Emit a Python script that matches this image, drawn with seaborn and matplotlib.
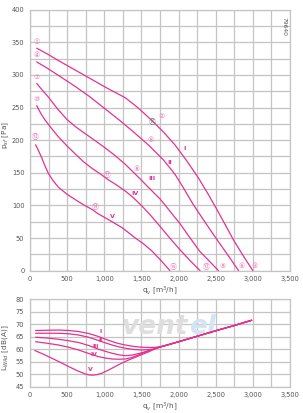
import matplotlib.pyplot as plt
import numpy as np
import pandas as pd
import seaborn as sns
from matplotlib.ticker import FuncFormatter, MultipleLocator

PINK = "#e5318f"
LABEL_PINK = "#ee78b4"
GRID = "#c4c4c4"
TEXT = "#555555"

# pressure curves (q_v [m3/h], p_sf [Pa])
P_CURVES = {
    "I": ([90, 250, 383, 600, 833, 1050, 1283, 1450, 1643, 1800, 1950, 2100, 2268, 2400, 2515, 2640, 2740, 2870, 3000],
          [341, 331, 322, 308, 293, 279, 265, 250, 230, 212, 193, 170, 142, 117, 94, 68, 47, 23, 0]),
    "II": ([90, 250, 400, 600, 800, 1000, 1200, 1400, 1600, 1795, 1950, 2065, 2200, 2335, 2460, 2583, 2700, 2808],
           [320, 309, 298, 283, 267, 249, 231, 212, 192, 170, 148, 127, 101, 78, 57, 37, 18, 0]),
    "III": ([90, 170, 248, 370, 495, 620, 743, 880, 1013, 1150, 1283, 1400, 1480, 1600, 1750, 1823, 1920, 2020, 2150,
             2290, 2420, 2538],
            [287, 276, 266, 248, 232, 220, 210, 199, 188, 176, 163, 150, 141, 127, 110, 100, 86, 72, 51, 29, 14, 0]),
    "IV": ([90, 150, 202, 290, 383, 500, 608, 720, 833, 950, 1058, 1170, 1283, 1400, 1508, 1630, 1750, 1823, 1920,
            2020, 2150, 2290],
           [253, 240, 231, 218, 205, 191, 179, 167, 157, 148, 139, 131, 122, 111, 99, 84, 68, 58, 45, 32, 16, 0]),
    "V": ([75, 110, 158, 200, 248, 310, 382, 500, 608, 720, 833, 920, 1013, 1120, 1238, 1330, 1418, 1530, 1643, 1760,
           1885],
          [193, 185, 173, 161, 149, 138, 128, 117, 109, 101, 94, 87, 81, 74, 66, 58, 50, 41, 30, 16, 0]),
}

# sound power curves (q_v [m3/h], L_WAd [dB(A)])
TAIL_Q = [1800, 2000, 2250, 2500, 2750, 2984]
TAIL_L = [61.3, 63.0, 65.2, 67.4, 69.5, 71.6]
L_CURVES = {
    "I": ([75, 230, 383, 520, 653, 790, 923, 1010, 1103, 1190, 1283, 1400, 1508, 1620, 1700],
          [67.5, 67.6, 67.7, 67.5, 67.1, 66.3, 65.1, 64.1, 63.1, 62.3, 61.7, 61.1, 60.8, 60.7, 60.8]),
    "II": ([75, 230, 383, 520, 653, 790, 923, 1010, 1103, 1190, 1283, 1400, 1508, 1650],
           [66.4, 66.4, 66.4, 66.2, 65.7, 64.8, 63.5, 62.6, 61.7, 61.0, 60.4, 59.9, 59.7, 60.0]),
    "III": ([75, 230, 383, 520, 653, 790, 923, 1010, 1103, 1190, 1283, 1380, 1480, 1580, 1700],
            [64.8, 64.5, 64.0, 63.4, 62.7, 61.5, 60.0, 59.2, 58.4, 57.8, 57.4, 57.7, 58.4, 59.3, 60.4]),
    "IV": ([75, 230, 383, 520, 653, 790, 923, 1010, 1103, 1190, 1283, 1360, 1450, 1550, 1700],
           [63.0, 62.4, 61.7, 60.8, 59.7, 58.3, 57.0, 56.5, 56.1, 56.0, 56.1, 56.6, 57.6, 58.8, 60.4]),
    "V": ([65, 180, 293, 405, 518, 630, 743, 790, 833, 900, 968, 1060, 1148, 1240, 1328, 1420, 1508, 1600, 1700],
          [59.5, 58.0, 56.4, 54.8, 53.1, 51.5, 50.1, 49.75, 49.6, 49.8, 50.4, 51.7, 53.1, 54.5, 55.7, 56.8, 57.9,
           59.0, 60.4]),
}

# label positions
START_LABELS = [("①", 85, 350), ("④", 85, 330), ("⑦", 85, 297), ("⑩", 85, 263), ("⑬", 75, 205)]
MID_LABELS = [("②", 1770, 237), ("⑤", 1625, 201), ("⑧", 1440, 156), ("⑪", 1040, 147), ("⑭", 880, 99)]
END_LABELS = [("⑮", 1930, 7), ("⑫", 2370, 7), ("⑨", 2600, 7), ("⑥", 2850, 7), ("③", 3030, 7)]
P_ROMAN = [("I", 2075, 188), ("II", 1880, 166), ("III", 1645, 141), ("IV", 1420, 119), ("V", 1115, 83)]
L_ROMAN = [("I", 956, 67.3), ("II", 956, 63.4), ("III", 880, 61.0), ("IV", 855, 57.8), ("V", 810, 52.0)]

sns.set_theme(style="white")
plt.rcParams["font.family"] = ["DejaVu Sans", "Noto Sans CJK JP"]


def style_axes(ax, ymax, ystep, yminor, ymin=0):
    ax.set_xlim(0, 3500)
    ax.set_ylim(ymin, ymax)
    ax.xaxis.set_major_locator(MultipleLocator(500))
    ax.xaxis.set_minor_locator(MultipleLocator(250))
    ax.yaxis.set_major_locator(MultipleLocator(ystep))
    ax.yaxis.set_minor_locator(MultipleLocator(yminor))
    ax.xaxis.set_major_formatter(FuncFormatter(lambda v, _: f"{int(v):,}"))
    ax.grid(which="both", color=GRID, linewidth=0.9)
    ax.set_axisbelow(True)
    for sp in ax.spines.values():
        sp.set_color(GRID)
        sp.set_linewidth(0.9)
    ax.tick_params(which="major", labelsize=4.8, colors=TEXT, length=2, width=0.5, pad=2)
    ax.tick_params(which="minor", length=0)
    ax.set_xlabel("q$_v$ [m$^3$/h]", fontsize=5.3, color=TEXT, labelpad=1.5)


fig = plt.figure(figsize=(3.03, 4.13), dpi=100)
ax1 = fig.add_axes([0.099, 0.3446, 0.858, 0.632])
ax2 = fig.add_axes([0.099, 0.0637, 0.858, 0.2116])

# top chart
rows = []
for name, (q, p) in P_CURVES.items():
    rows += [{"curve": name, "q": a, "p": b} for a, b in zip(q, p)]
p_df = pd.DataFrame(rows)
sns.lineplot(data=p_df, x="q", y="p", units="curve", estimator=None, sort=False,
             color=PINK, linewidth=0.9, ax=ax1)
style_axes(ax1, 400, 50, 25)
ax1.set_ylabel("p$_{sf}$ [Pa]", fontsize=5.3, color=TEXT)
ax1.yaxis.set_label_coords(-0.072, 0.52)

for txt, x, y in START_LABELS + MID_LABELS + END_LABELS:
    ax1.text(x, y, txt, color=LABEL_PINK, fontsize=5, ha="center", va="center")
ax1.text(1650, 229, "⑯", color="#777777", fontsize=5, ha="center", va="center")
for txt, x, y in P_ROMAN:
    ax1.text(x, y, txt, color=PINK, fontsize=4.6, fontweight="bold", ha="center", va="center")
ax1.text(0.985, 0.97, "79640", transform=ax1.transAxes, rotation=270, fontsize=4.3,
         color=TEXT, ha="right", va="top")

# bottom chart, faint watermark first
ax2.text(2130, 69, "vent", fontsize=19, fontweight="bold", style="italic",
         color="#dedede", ha="right", va="center", zorder=1)
ax2.text(2140, 69, "el", fontsize=19, fontweight="bold", style="italic",
         color="#d3e5f3", ha="left", va="center", zorder=1)
rows = []
for name, (q, l) in L_CURVES.items():
    rows += [{"curve": name, "q": a, "l": b} for a, b in zip(q + TAIL_Q, l + TAIL_L)]
l_df = pd.DataFrame(rows)
sns.lineplot(data=l_df, x="q", y="l", units="curve", estimator=None, sort=False,
             color=PINK, linewidth=0.9, ax=ax2)
style_axes(ax2, 80, 5, 5, ymin=45)
ax2.set_ylabel("L$_{WAd}$ [dB(A)]", fontsize=5.3, color=TEXT)
ax2.yaxis.set_label_coords(-0.072, 0.45)
for txt, x, y in L_ROMAN:
    ax2.text(x, y, txt, color=PINK, fontsize=4.4, fontweight="bold", ha="center", va="center")

fig.savefig("out.png", dpi=100)
